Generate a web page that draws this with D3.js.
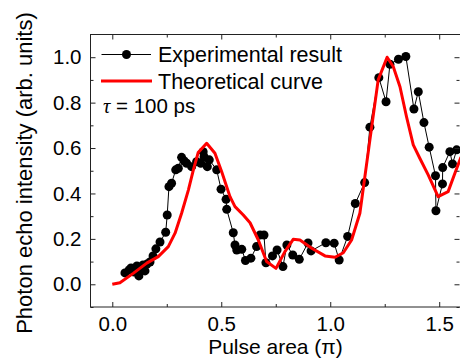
<!DOCTYPE html>
<html>
<head>
<meta charset="utf-8">
<script src="https://cdn.jsdelivr.net/npm/d3@7"></script>
<style>
  body { margin: 0; background: #fff; }
  svg { display: block; font-family: "Liberation Sans", Arial, sans-serif; }
</style>
</head>
<body>
<script>
// experimental points (pulse area in pi, intensity)
const expX = [0.058,0.077,0.086,0.100,0.113,0.122,0.132,0.141,0.150,0.159,0.173,0.187,0.200,0.219,0.245,0.252,0.260,0.272,0.291,0.303,
  0.318,0.330,0.341,0.364,0.387,0.406,0.417,0.421,0.436,0.445,0.479,0.499,0.522,0.525,0.555,0.563,0.571,0.594,0.611,0.636,
  0.662,0.678,0.696,0.705,0.735,0.756,0.783,0.801,0.828,0.858,0.898,0.912,0.980,1.018,1.041,1.080,1.115,1.158,1.182,1.223,
  1.256,1.274,1.313,1.347,1.384,1.404,1.430,1.454,1.483,1.485,1.515,1.516,1.549,1.561,1.580]
const expY = [0.050,0.063,0.072,0.054,0.081,0.037,0.063,0.085,0.059,0.089,0.098,0.125,0.156,0.186,0.229,0.305,0.430,0.445,0.504,0.511,
  0.559,0.543,0.533,0.518,0.540,0.533,0.584,0.562,0.518,0.548,0.504,0.419,0.374,0.330,0.227,0.173,0.151,0.154,0.105,0.115,
  0.166,0.217,0.217,0.095,0.125,0.151,0.078,0.173,0.129,0.110,0.182,0.147,0.183,0.181,0.107,0.211,0.356,0.448,0.692,0.910,
  0.804,0.969,0.991,1.003,0.772,0.848,0.712,0.604,0.478,0.324,0.442,0.514,0.584,0.530,0.592]

// theoretical curve
const theoX = [0.0,0.035,0.096,0.158,0.211,0.257,0.288,0.318,0.349,0.372,0.394,0.433,0.471,0.502,0.540,0.563,0.601,0.632,0.670,0.708,
  0.751,0.792,0.830,0.861,0.915,0.976,1.022,1.060,1.098,1.136,1.182,1.220,1.261,1.289,1.320,1.350,1.381,1.411,1.450,1.495,
  1.541,1.572,1.600]
const theoY = [0.0,0.007,0.048,0.093,0.122,0.166,0.225,0.313,0.415,0.504,0.580,0.621,0.577,0.496,0.386,0.342,0.305,0.271,0.195,0.100,
  0.070,0.144,0.198,0.195,0.159,0.125,0.119,0.139,0.195,0.313,0.636,0.900,1.000,0.959,0.870,0.738,0.614,0.555,0.481,0.386,
  0.408,0.489,0.560]

const xTicks = [0, 0.5, 1.0, 1.5]
const xMinor = [0.25, 0.75, 1.25]
const yTicks = [0, 0.2, 0.4, 0.6, 0.8, 1.0]
const yMinor = [-0.1, 0.1, 0.3, 0.5, 0.7, 0.9]

const W = 460, H = 358
const svg = d3.select("body").append("svg").attr("width", W).attr("height", H)

const x = d3.scaleLinear().domain([-0.1, 1.6]).range([90.5, 461])
const y = d3.scaleLinear().domain([-0.1, 1.1]).range([307, 34.5])
const fmt = d3.format(".1f")

svg.append("clipPath").attr("id", "clip")
  .append("rect").attr("x", 90.5).attr("y", 34.5).attr("width", 370.5).attr("height", 272.5)

const plot = svg.append("g").attr("clip-path", "url(#clip)")

const pts = expX.map((d, i) => [d, expY[i]])
const tpts = theoX.map((d, i) => [d, theoY[i]])

plot.append("path")
  .attr("d", d3.line().x(d => x(d[0])).y(d => y(d[1]))(pts))
  .attr("fill", "none").attr("stroke", "#000").attr("stroke-width", 1)

plot.selectAll("circle").data(pts).enter().append("circle")
  .attr("cx", d => x(d[0])).attr("cy", d => y(d[1])).attr("r", 4.5).attr("fill", "#000")

plot.append("path")
  .attr("d", d3.line().x(d => x(d[0])).y(d => y(d[1]))(tpts))
  .attr("fill", "none").attr("stroke", "#ff0000").attr("stroke-width", 3).attr("stroke-linejoin", "round")

// axes, ticks pointing inward
function styleAxis(g) {
  g.select(".domain").remove()
  g.selectAll(".tick line").attr("stroke", "#222")
  g.selectAll(".tick text").attr("fill", "#000").attr("font-size", 20.5).attr("font-family", "Liberation Sans, Arial, sans-serif")
}
svg.append("g").attr("transform", "translate(0,307)")
  .call(d3.axisBottom(x).tickValues(xTicks).tickFormat(fmt).tickSizeInner(-5).tickSizeOuter(0).tickPadding(9))
  .call(styleAxis)
svg.append("g").attr("transform", "translate(0,307)")
  .call(d3.axisBottom(x).tickValues(xMinor).tickFormat("").tickSizeInner(-3).tickSizeOuter(0))
  .call(styleAxis)
svg.append("g").attr("transform", "translate(0,34.5)")
  .call(d3.axisTop(x).tickValues(xTicks).tickFormat("").tickSizeInner(-5).tickSizeOuter(0))
  .call(styleAxis)
svg.append("g").attr("transform", "translate(0,34.5)")
  .call(d3.axisTop(x).tickValues(xMinor).tickFormat("").tickSizeInner(-3).tickSizeOuter(0))
  .call(styleAxis)
svg.append("g").attr("transform", "translate(90.5,0)")
  .call(d3.axisLeft(y).tickValues(yTicks).tickFormat(fmt).tickSizeInner(-5).tickSizeOuter(0).tickPadding(9))
  .call(styleAxis)
svg.append("g").attr("transform", "translate(90.5,0)")
  .call(d3.axisLeft(y).tickValues(yMinor).tickFormat("").tickSizeInner(-3).tickSizeOuter(0))
  .call(styleAxis)
svg.append("g").attr("transform", "translate(459.5,0)")
  .call(d3.axisRight(y).tickValues(yTicks).tickFormat("").tickSizeInner(-5).tickSizeOuter(0))
  .call(styleAxis)
svg.append("g").attr("transform", "translate(459.5,0)")
  .call(d3.axisRight(y).tickValues(yMinor).tickFormat("").tickSizeInner(-3).tickSizeOuter(0))
  .call(styleAxis)

svg.append("rect").attr("x", 90.5).attr("y", 34.5).attr("width", 370.5).attr("height", 272.5)
  .attr("fill", "none").attr("stroke", "#222").attr("stroke-width", 1)

// axis titles
svg.append("text").attr("x", 275.5).attr("y", 353.5).attr("text-anchor", "middle")
  .attr("font-size", 21).text("Pulse area (\u03c0)")
svg.append("text").attr("transform", "translate(31.5,173) rotate(-90)").attr("text-anchor", "middle")
  .attr("font-size", 22).text("Photon echo intensity (arb. units)")

// legend
const lg = svg.append("g")
lg.append("line").attr("x1", 101.5).attr("x2", 151).attr("y1", 54.5).attr("y2", 54.5).attr("stroke", "#000")
lg.append("circle").attr("cx", 126.5).attr("cy", 54.5).attr("r", 4.5).attr("fill", "#000")
lg.append("text").attr("x", 158).attr("y", 62).attr("font-size", 21.5).text("Experimental result")
lg.append("line").attr("x1", 101).attr("x2", 152).attr("y1", 81).attr("y2", 81).attr("stroke", "#ff0000").attr("stroke-width", 3)
lg.append("text").attr("x", 158).attr("y", 88.5).attr("font-size", 21.5).text("Theoretical curve")
const tau = lg.append("text").attr("x", 103).attr("y", 112.5).attr("font-size", 20.5)
tau.append("tspan").attr("font-family", "Liberation Serif, serif").attr("font-style", "italic").text("\u03c4")
tau.append("tspan").text(" = 100 ps")
</script>
</body>
</html>
